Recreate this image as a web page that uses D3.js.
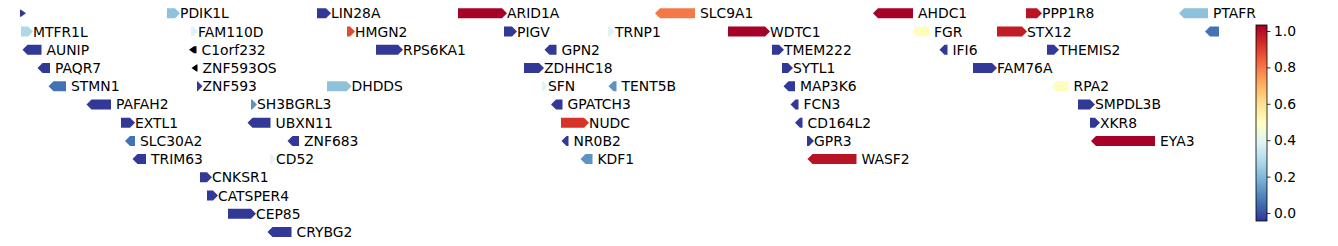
<!DOCTYPE html>
<html><head><meta charset="utf-8">
<script src="https://cdn.jsdelivr.net/npm/d3@7"></script>
<style>body{margin:0;background:#fff}svg{display:block}text{font-family:"DejaVu Sans",sans-serif}</style>
</head><body><svg id="c" width="1338" height="246"></svg>
<script>
// Genes: name, body start / end (kb), strand, value, lane
const genes   = ["","PDIK1L","LIN28A","ARID1A","SLC9A1","AHDC1","PPP1R8","PTAFR",
  "MTFR1L","FAM110D","HMGN2","PIGV","TRNP1","WDTC1","FGR","STX12","",
  "AUNIP","C1orf232","RPS6KA1","GPN2","TMEM222","IFI6","THEMIS2",
  "PAQR7","ZNF593OS","ZDHHC18","SYTL1","FAM76A",
  "STMN1","ZNF593","DHDDS","SFN","TENT5B","MAP3K6","RPA2",
  "PAFAH2","SH3BGRL3","GPATCH3","FCN3","SMPDL3B",
  "EXTL1","UBXN11","NUDC","CD164L2","XKR8",
  "SLC30A2","ZNF683","NR0B2","GPR3","EYA3",
  "TRIM63","CD52","KDF1","WASF2",
  "CNKSR1","CATSPER4","CEP85","CRYBG2"];
const starts  = [25650,25944,26244,26526,26930,27366,27662,27978,
  25652,25992,26304,26618,26826,27066,27444,27604,28030,
  25665,25998,26362,26709,27154,27499,27704,
  25695,26003,26658,27174,27556,
  25717,26004,26264,26694,26837,27187,27723,
  25793,26112,26722,27201,27766,
  25852,26115,26732,27210,27790,
  25870,26195,26743,27224,27802,
  25885,26150,26781,27235,
  26010,26024,26066,26155];
const ends    = [25652,25960,26262,26614,27000,27436,27684,28026,
  25666,25996,26310,26634,26830,27140,27468,27654,28048,
  25693,26003,26406,26723,27168,27505,27718,
  25710,26005,26688,27186,27594,
  25742,26005,26303,26696,26843,27200,27747,
  25832,26114,26735,27207,27790,
  25870,26151,26778,27215,27800,
  25880,26208,26747,27228,27920,
  25902,26152,26795,27323,
  26024,26036,26112,26193];
const strands = ["+","+","+","+","-","-","+","-",
  "+","+","+","+","+","+","-","+","-",
  "-","-","+","-","+","-","+",
  "-","-","+","+","+",
  "-","+","+","+","-","-","-",
  "-","+","-","-","+",
  "+","-","+","-","+",
  "-","-","-","+","-",
  "-","+","-","-",
  "+","+","+","-"];
const values  = [-0.04,0.22,-0.04,1.03,0.80,1.03,0.99,0.22,
  0.28,0.39,0.88,-0.04,0.39,1.03,0.50,0.97,0.06,
  -0.04,null,-0.04,-0.04,-0.04,-0.04,-0.04,
  -0.04,null,-0.04,-0.04,-0.04,
  0.06,-0.04,0.22,0.40,0.12,-0.04,0.50,
  -0.04,0.12,-0.04,-0.04,-0.04,
  -0.04,-0.04,0.92,-0.04,-0.04,
  0.06,-0.04,-0.04,-0.04,1.03,
  -0.04,0.40,0.12,0.99,
  -0.04,-0.04,-0.04,-0.04];
const lanes   = [0,0,0,0,0,0,0,0,
  1,1,1,1,1,1,1,1,1,
  2,2,2,2,2,2,2,
  3,3,3,3,3,
  4,4,4,4,4,4,4,
  5,5,5,5,5,
  6,6,6,6,6,
  7,7,7,7,7,
  8,8,8,8,
  9,10,11,12];
const cbTicks = [0.0,0.2,0.4,0.6,0.8,1.0];
const cmapColors = ["#313695","#4575b4","#74add1","#abd9e9","#e0f3f8","#ffffbf","#fee090","#fdae61","#f46d43","#d73027","#a50026"];
const vmin = -0.044, vmax = 1.033;

const svg = d3.select("#c");
const x = d3.scaleLinear().domain([25650, 28090]).range([20, 1240]);
const y = d3.scaleLinear().domain([0, 12]).range([13.3, 232]);
const color = d3.scaleLinear()
  .domain(cmapColors.map((c,i)=> vmin + i/(cmapColors.length-1)*(vmax-vmin)))
  .range(cmapColors).interpolate(d3.interpolateRgb).clamp(true);

const H = 10, HL = 5;
const data = genes.map((g,i)=>({name:g,s:starts[i],e:ends[i],strand:strands[i],v:values[i],lane:lanes[i]}));

function arrowPath(d){
  const x0 = x(d.s), x1 = Math.max(x(d.e), x(d.s)), cy = y(d.lane);
  // very short genes draw a reduced head
  const h = (d.v === null || (x1 - x0) < 1.5 && d.lane === 0) ? 3.5 : H/2;
  if (d.strand === "+") {
    return `M${x0},${cy-h}L${x1},${cy-h}L${x1+HL},${cy}L${x1},${cy+h}L${x0},${cy+h}Z`;
  } else {
    return `M${x1},${cy-h}L${x0},${cy-h}L${x0-HL},${cy}L${x0},${cy+h}L${x1},${cy+h}Z`;
  }
}

const g = svg.append("g");
g.selectAll("path.gene").data(data).join("path").attr("class","gene")
  .attr("d", arrowPath)
  .attr("fill", d => d.v === null ? "#000" : color(d.v));

g.selectAll("text.lab").data(data.filter(d=>d.name)).join("text").attr("class","lab")
  .attr("x", d => Math.max(x(d.e), x(d.s)) + HL)
  .attr("y", d => y(d.lane))
  .attr("dominant-baseline","central")
  .attr("font-size", 13.9)
  .attr("fill","#000")
  .text(d => d.name);

// colorbar
const cbX = 1256, cbW = 11, cbTop = 25, cbBot = 221;
const cy = d3.scaleLinear().domain([vmin, vmax]).range([cbBot, cbTop]);
const defs = svg.append("defs");
const grad = defs.append("linearGradient").attr("id","cb").attr("x1",0).attr("y1",1).attr("x2",0).attr("y2",0);
cmapColors.forEach((c,i)=> grad.append("stop").attr("offset", i/(cmapColors.length-1)).attr("stop-color", c));
svg.append("rect").attr("x",cbX).attr("y",cbTop).attr("width",cbW).attr("height",cbBot-cbTop)
  .attr("fill","url(#cb)").attr("stroke","#000").attr("stroke-width",0.8);
const ax = svg.append("g").attr("transform",`translate(${cbX+cbW},0)`)
  .call(d3.axisRight(cy).tickValues(cbTicks).tickFormat(d3.format(".1f")).tickSize(3.5).tickPadding(3.5));
ax.select(".domain").remove();
ax.selectAll("text").attr("font-size",13.9).attr("font-family","DejaVu Sans").attr("fill","#000");
ax.selectAll("line").attr("stroke","#000").attr("stroke-width",0.8);
</script></body></html>
